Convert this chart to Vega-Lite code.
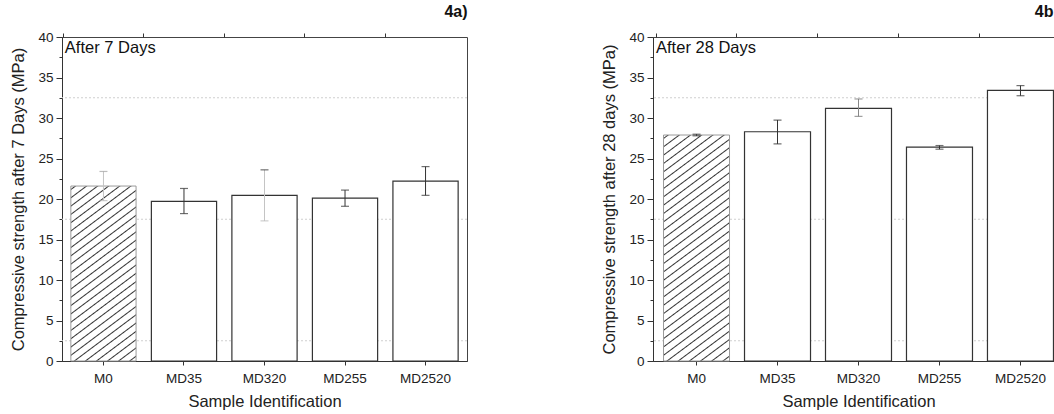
{
  "$schema": "https://vega.github.io/schema/vega-lite/v6.json",
  "padding": {"left": 10, "top": 3, "right": 0, "bottom": 0},
  "autosize": {"type": "pad"},
  "background": "white",
  "config": {
    "font": "Liberation Sans",
    "view": {"stroke": "#444", "strokeWidth": 1},
    "axis": {
      "domainColor": "#333", "tickColor": "#333", "labelColor": "#222", "titleColor": "#222",
      "labelFont": "Liberation Sans", "titleFont": "Liberation Sans",
      "labelFontSize": 13.5, "titleFontSize": 16.5, "titleFontWeight": "normal", "grid": false
    },
    "title": {"font": "Liberation Sans"}
  },
  "datasets": {
    "d7": [
      {"id": "M0", "value": 21.6, "lo": 19.8, "hi": 23.4},
      {"id": "MD35", "value": 19.7, "lo": 18.2, "hi": 21.3},
      {"id": "MD320", "value": 20.45, "lo": 17.3, "hi": 23.6},
      {"id": "MD255", "value": 20.1, "lo": 19.1, "hi": 21.1},
      {"id": "MD2520", "value": 22.2, "lo": 20.45, "hi": 24.0}
    ],
    "d28": [
      {"id": "M0", "value": 27.9, "lo": 27.8, "hi": 28.0},
      {"id": "MD35", "value": 28.3, "lo": 26.8, "hi": 29.75},
      {"id": "MD320", "value": 31.2, "lo": 30.2, "hi": 32.35},
      {"id": "MD255", "value": 26.4, "lo": 26.15, "hi": 26.6},
      {"id": "MD2520", "value": 33.4, "lo": 32.75, "hi": 34.0}
    ],
    "grid": [{"g": 2.5}, {"g": 17.5}, {"g": 32.5}],
    "note7": [{"t": "After 7 Days"}],
    "note28": [{"t": "After 28 Days"}]
  },
  "spacing": 133,
  "hconcat": [
    {
      "width": 405,
      "height": 324,
      "title": {"text": "4a)", "anchor": "end", "fontSize": 16, "fontWeight": "bold", "offset": 10, "color": "#111"},
      "resolve": {"axis": {"y": "independent", "x": "independent"}},
      "layer": [
        {
          "data": {"name": "grid"},
          "mark": {"type": "rule", "color": "#cfcfcf", "strokeDash": [2, 2], "strokeWidth": 1},
          "encoding": {"y": {"field": "g", "type": "quantitative", "scale": {"domain": [0, 40], "nice": false}, "axis": null}}
        },
        {
          "data": {"name": "d7"},
          "transform": [{"filter": "datum.id !== 'M0'"}],
          "mark": {"type": "bar", "fill": "white", "stroke": "#333", "strokeWidth": 1.2},
          "encoding": {
            "x": {"field": "id", "type": "nominal", "title": "Sample Identification",
                  "scale": {"domain": ["M0", "MD35", "MD320", "MD255", "MD2520"], "paddingInner": 0.19, "paddingOuter": 0.11},
                  "axis": {"labelAngle": 0, "tickSize": 4, "labelPadding": 6, "titlePadding": 9}},
            "y": {"field": "value", "type": "quantitative", "title": "Compressive strength after 7 Days (MPa)",
                  "scale": {"domain": [0, 40], "nice": false},
                  "axis": {"values": [0, 5, 10, 15, 20, 25, 30, 35, 40], "tickSize": 6, "labelPadding": 3, "titlePadding": 11}}
          }
        },
        {
          "data": {"name": "d7"},
          "transform": [{"filter": "datum.id === 'M0'"}],
          "mark": {"type": "bar", "stroke": "#9a9a9a", "strokeWidth": 1,
            "fill": {"gradient": "linear", "x1": 0, "y1": 0, "x2": 0.3316, "y2": 1.1868, "stops": [
              {"offset": 0, "color": "#fff"},
              {"offset": 0.0100, "color": "#fff"}, {"offset": 0.0156, "color": "#333"}, {"offset": 0.0212, "color": "#fff"},
              {"offset": 0.0470, "color": "#fff"}, {"offset": 0.0526, "color": "#333"}, {"offset": 0.0582, "color": "#fff"},
              {"offset": 0.0841, "color": "#fff"}, {"offset": 0.0897, "color": "#333"}, {"offset": 0.0953, "color": "#fff"},
              {"offset": 0.1211, "color": "#fff"}, {"offset": 0.1267, "color": "#333"}, {"offset": 0.1323, "color": "#fff"},
              {"offset": 0.1581, "color": "#fff"}, {"offset": 0.1637, "color": "#333"}, {"offset": 0.1693, "color": "#fff"},
              {"offset": 0.1952, "color": "#fff"}, {"offset": 0.2008, "color": "#333"}, {"offset": 0.2064, "color": "#fff"},
              {"offset": 0.2322, "color": "#fff"}, {"offset": 0.2378, "color": "#333"}, {"offset": 0.2434, "color": "#fff"},
              {"offset": 0.2693, "color": "#fff"}, {"offset": 0.2749, "color": "#333"}, {"offset": 0.2805, "color": "#fff"},
              {"offset": 0.3063, "color": "#fff"}, {"offset": 0.3119, "color": "#333"}, {"offset": 0.3175, "color": "#fff"},
              {"offset": 0.3433, "color": "#fff"}, {"offset": 0.3489, "color": "#333"}, {"offset": 0.3545, "color": "#fff"},
              {"offset": 0.3804, "color": "#fff"}, {"offset": 0.3860, "color": "#333"}, {"offset": 0.3916, "color": "#fff"},
              {"offset": 0.4174, "color": "#fff"}, {"offset": 0.4230, "color": "#333"}, {"offset": 0.4286, "color": "#fff"},
              {"offset": 0.4544, "color": "#fff"}, {"offset": 0.4600, "color": "#333"}, {"offset": 0.4656, "color": "#fff"},
              {"offset": 0.4915, "color": "#fff"}, {"offset": 0.4971, "color": "#333"}, {"offset": 0.5027, "color": "#fff"},
              {"offset": 0.5285, "color": "#fff"}, {"offset": 0.5341, "color": "#333"}, {"offset": 0.5397, "color": "#fff"},
              {"offset": 0.5656, "color": "#fff"}, {"offset": 0.5712, "color": "#333"}, {"offset": 0.5768, "color": "#fff"},
              {"offset": 0.6026, "color": "#fff"}, {"offset": 0.6082, "color": "#333"}, {"offset": 0.6138, "color": "#fff"},
              {"offset": 0.6396, "color": "#fff"}, {"offset": 0.6452, "color": "#333"}, {"offset": 0.6508, "color": "#fff"},
              {"offset": 0.6767, "color": "#fff"}, {"offset": 0.6823, "color": "#333"}, {"offset": 0.6879, "color": "#fff"},
              {"offset": 0.7137, "color": "#fff"}, {"offset": 0.7193, "color": "#333"}, {"offset": 0.7249, "color": "#fff"},
              {"offset": 0.7507, "color": "#fff"}, {"offset": 0.7563, "color": "#333"}, {"offset": 0.7619, "color": "#fff"},
              {"offset": 0.7878, "color": "#fff"}, {"offset": 0.7934, "color": "#333"}, {"offset": 0.7990, "color": "#fff"},
              {"offset": 0.8248, "color": "#fff"}, {"offset": 0.8304, "color": "#333"}, {"offset": 0.8360, "color": "#fff"},
              {"offset": 0.8619, "color": "#fff"}, {"offset": 0.8675, "color": "#333"}, {"offset": 0.8731, "color": "#fff"},
              {"offset": 0.8989, "color": "#fff"}, {"offset": 0.9045, "color": "#333"}, {"offset": 0.9101, "color": "#fff"},
              {"offset": 0.9359, "color": "#fff"}, {"offset": 0.9415, "color": "#333"}, {"offset": 0.9471, "color": "#fff"},
              {"offset": 0.9730, "color": "#fff"}, {"offset": 0.9786, "color": "#333"}, {"offset": 0.9842, "color": "#fff"},
              {"offset": 1, "color": "#fff"}
            ]}},
          "encoding": {
            "x": {"field": "id", "type": "nominal", "axis": null},
            "y": {"field": "value", "type": "quantitative", "axis": null}
          }
        },
        {
          "data": {"name": "d7"},
          "mark": {"type": "rule", "strokeWidth": 1},
          "encoding": {
            "x": {"field": "id", "type": "nominal",
                  "axis": {"bandPosition": -0.117, "labels": false, "domain": false, "tickSize": 4, "title": null}},
            "y": {"field": "lo", "type": "quantitative",
                  "axis": {"orient": "left", "values": [2.5, 7.5, 12.5, 17.5, 22.5, 27.5, 32.5, 37.5], "labels": false, "domain": false, "tickSize": 3, "title": null}},
            "y2": {"field": "hi"},
            "color": {"condition": {"test": "datum.id === 'M0' || datum.id === 'MD320'", "value": "#c4c4c4"}, "value": "#333"}
          }
        },
        {
          "data": {"name": "d7"},
          "mark": {"type": "tick", "thickness": 1.2, "size": 8},
          "encoding": {
            "x": {"field": "id", "type": "nominal", "axis": null},
            "y": {"field": "hi", "type": "quantitative", "axis": null},
            "color": {"condition": {"test": "datum.id === 'M0'", "value": "#a0a0a0"}, "value": "#333"}
          }
        },
        {
          "data": {"name": "d7"},
          "mark": {"type": "tick", "thickness": 1.2, "size": 8},
          "encoding": {
            "x": {"field": "id", "type": "nominal", "axis": null},
            "y": {"field": "lo", "type": "quantitative", "axis": null},
            "color": {"condition": {"test": "datum.id === 'M0' || datum.id === 'MD320'", "value": "#b8b8b8"}, "value": "#333"}
          }
        },
        {
          "data": {"name": "note7"},
          "mark": {"type": "text", "align": "left", "baseline": "top", "fontSize": 16.5, "color": "#111", "dx": -6, "dy": 3},
          "encoding": {
            "x": {"datum": "M0", "type": "nominal", "bandPosition": 0, "axis": null},
            "y": {"datum": 40, "type": "quantitative", "axis": null},
            "text": {"field": "t"}
          }
        }
      ]
    },
    {
      "width": 411,
      "height": 324,
      "title": {"text": "4b", "anchor": "end", "fontSize": 16, "fontWeight": "bold", "offset": 10, "color": "#111", "dx": -11},
      "resolve": {"axis": {"y": "independent", "x": "independent"}},
      "layer": [
        {
          "data": {"name": "grid"},
          "mark": {"type": "rule", "color": "#cfcfcf", "strokeDash": [2, 2], "strokeWidth": 1},
          "encoding": {"y": {"field": "g", "type": "quantitative", "scale": {"domain": [0, 40], "nice": false}, "axis": null}}
        },
        {
          "data": {"name": "d28"},
          "transform": [{"filter": "datum.id !== 'M0'"}],
          "mark": {"type": "bar", "fill": "white", "stroke": "#333", "strokeWidth": 1.2},
          "encoding": {
            "x": {"field": "id", "type": "nominal", "title": "Sample Identification",
                  "scale": {"domain": ["M0", "MD35", "MD320", "MD255", "MD2520"], "paddingInner": 0.185, "paddingOuter": 0.13},
                  "axis": {"labelAngle": 0, "tickSize": 4, "labelPadding": 6, "titlePadding": 9}},
            "y": {"field": "value", "type": "quantitative", "title": "Compressive strength after 28 days (MPa)",
                  "scale": {"domain": [0, 40], "nice": false},
                  "axis": {"values": [0, 5, 10, 15, 20, 25, 30, 35, 40], "tickSize": 6, "labelPadding": 3, "titlePadding": 11}}
          }
        },
        {
          "data": {"name": "d28"},
          "transform": [{"filter": "datum.id === 'M0'"}],
          "mark": {"type": "bar", "stroke": "#9a9a9a", "strokeWidth": 1,
            "fill": {"gradient": "linear", "x1": 0, "y1": 0, "x2": 0.2531, "y2": 1.1626, "stops": [
              {"offset": 0, "color": "#fff"},
              {"offset": 0.0080, "color": "#fff"}, {"offset": 0.0125, "color": "#333"}, {"offset": 0.0170, "color": "#fff"},
              {"offset": 0.0383, "color": "#fff"}, {"offset": 0.0428, "color": "#333"}, {"offset": 0.0473, "color": "#fff"},
              {"offset": 0.0686, "color": "#fff"}, {"offset": 0.0731, "color": "#333"}, {"offset": 0.0776, "color": "#fff"},
              {"offset": 0.0989, "color": "#fff"}, {"offset": 0.1034, "color": "#333"}, {"offset": 0.1079, "color": "#fff"},
              {"offset": 0.1292, "color": "#fff"}, {"offset": 0.1337, "color": "#333"}, {"offset": 0.1382, "color": "#fff"},
              {"offset": 0.1595, "color": "#fff"}, {"offset": 0.1640, "color": "#333"}, {"offset": 0.1685, "color": "#fff"},
              {"offset": 0.1898, "color": "#fff"}, {"offset": 0.1943, "color": "#333"}, {"offset": 0.1988, "color": "#fff"},
              {"offset": 0.2201, "color": "#fff"}, {"offset": 0.2246, "color": "#333"}, {"offset": 0.2291, "color": "#fff"},
              {"offset": 0.2504, "color": "#fff"}, {"offset": 0.2549, "color": "#333"}, {"offset": 0.2594, "color": "#fff"},
              {"offset": 0.2807, "color": "#fff"}, {"offset": 0.2852, "color": "#333"}, {"offset": 0.2897, "color": "#fff"},
              {"offset": 0.3110, "color": "#fff"}, {"offset": 0.3155, "color": "#333"}, {"offset": 0.3200, "color": "#fff"},
              {"offset": 0.3413, "color": "#fff"}, {"offset": 0.3458, "color": "#333"}, {"offset": 0.3503, "color": "#fff"},
              {"offset": 0.3716, "color": "#fff"}, {"offset": 0.3761, "color": "#333"}, {"offset": 0.3806, "color": "#fff"},
              {"offset": 0.4019, "color": "#fff"}, {"offset": 0.4064, "color": "#333"}, {"offset": 0.4109, "color": "#fff"},
              {"offset": 0.4322, "color": "#fff"}, {"offset": 0.4367, "color": "#333"}, {"offset": 0.4412, "color": "#fff"},
              {"offset": 0.4625, "color": "#fff"}, {"offset": 0.4670, "color": "#333"}, {"offset": 0.4715, "color": "#fff"},
              {"offset": 0.4928, "color": "#fff"}, {"offset": 0.4973, "color": "#333"}, {"offset": 0.5018, "color": "#fff"},
              {"offset": 0.5232, "color": "#fff"}, {"offset": 0.5277, "color": "#333"}, {"offset": 0.5322, "color": "#fff"},
              {"offset": 0.5535, "color": "#fff"}, {"offset": 0.5580, "color": "#333"}, {"offset": 0.5625, "color": "#fff"},
              {"offset": 0.5838, "color": "#fff"}, {"offset": 0.5883, "color": "#333"}, {"offset": 0.5928, "color": "#fff"},
              {"offset": 0.6141, "color": "#fff"}, {"offset": 0.6186, "color": "#333"}, {"offset": 0.6231, "color": "#fff"},
              {"offset": 0.6444, "color": "#fff"}, {"offset": 0.6489, "color": "#333"}, {"offset": 0.6534, "color": "#fff"},
              {"offset": 0.6747, "color": "#fff"}, {"offset": 0.6792, "color": "#333"}, {"offset": 0.6837, "color": "#fff"},
              {"offset": 0.7050, "color": "#fff"}, {"offset": 0.7095, "color": "#333"}, {"offset": 0.7140, "color": "#fff"},
              {"offset": 0.7353, "color": "#fff"}, {"offset": 0.7398, "color": "#333"}, {"offset": 0.7443, "color": "#fff"},
              {"offset": 0.7656, "color": "#fff"}, {"offset": 0.7701, "color": "#333"}, {"offset": 0.7746, "color": "#fff"},
              {"offset": 0.7959, "color": "#fff"}, {"offset": 0.8004, "color": "#333"}, {"offset": 0.8049, "color": "#fff"},
              {"offset": 0.8262, "color": "#fff"}, {"offset": 0.8307, "color": "#333"}, {"offset": 0.8352, "color": "#fff"},
              {"offset": 0.8565, "color": "#fff"}, {"offset": 0.8610, "color": "#333"}, {"offset": 0.8655, "color": "#fff"},
              {"offset": 0.8868, "color": "#fff"}, {"offset": 0.8913, "color": "#333"}, {"offset": 0.8958, "color": "#fff"},
              {"offset": 0.9171, "color": "#fff"}, {"offset": 0.9216, "color": "#333"}, {"offset": 0.9261, "color": "#fff"},
              {"offset": 0.9474, "color": "#fff"}, {"offset": 0.9519, "color": "#333"}, {"offset": 0.9564, "color": "#fff"},
              {"offset": 0.9777, "color": "#fff"}, {"offset": 0.9822, "color": "#333"}, {"offset": 0.9867, "color": "#fff"},
              {"offset": 1, "color": "#fff"}
            ]}},
          "encoding": {
            "x": {"field": "id", "type": "nominal", "axis": null},
            "y": {"field": "value", "type": "quantitative", "axis": null}
          }
        },
        {
          "data": {"name": "d28"},
          "mark": {"type": "rule", "strokeWidth": 1},
          "encoding": {
            "x": {"field": "id", "type": "nominal",
                  "axis": {"bandPosition": -0.114, "labels": false, "domain": false, "tickSize": 4, "title": null}},
            "y": {"field": "lo", "type": "quantitative",
                  "axis": {"orient": "left", "values": [2.5, 7.5, 12.5, 17.5, 22.5, 27.5, 32.5, 37.5], "labels": false, "domain": false, "tickSize": 3, "title": null}},
            "y2": {"field": "hi"},
            "color": {"condition": {"test": "datum.id === 'MD320'", "value": "#888"}, "value": "#333"}
          }
        },
        {
          "data": {"name": "d28"},
          "mark": {"type": "tick", "thickness": 1.2, "size": 8},
          "encoding": {
            "x": {"field": "id", "type": "nominal", "axis": null},
            "y": {"field": "hi", "type": "quantitative", "axis": null},
            "color": {"condition": {"test": "datum.id === 'MD320'", "value": "#777"}, "value": "#333"}
          }
        },
        {
          "data": {"name": "d28"},
          "mark": {"type": "tick", "thickness": 1.2, "size": 8},
          "encoding": {
            "x": {"field": "id", "type": "nominal", "axis": null},
            "y": {"field": "lo", "type": "quantitative", "axis": null},
            "color": {"condition": {"test": "datum.id === 'MD320'", "value": "#777"}, "value": "#333"}
          }
        },
        {
          "data": {"name": "note28"},
          "mark": {"type": "text", "align": "left", "baseline": "top", "fontSize": 16.5, "color": "#111", "dx": -7.5, "dy": 3},
          "encoding": {
            "x": {"datum": "M0", "type": "nominal", "bandPosition": 0, "axis": null},
            "y": {"datum": 40, "type": "quantitative", "axis": null},
            "text": {"field": "t"}
          }
        }
      ]
    }
  ]
}
